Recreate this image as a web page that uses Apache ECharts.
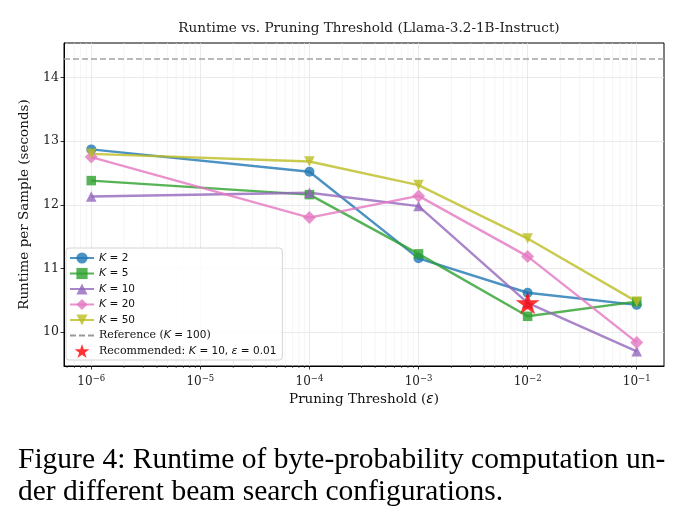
<!DOCTYPE html>
<html>
<head>
<meta charset="utf-8">
<script src="https://cdn.jsdelivr.net/npm/echarts@6/dist/echarts.min.js"></script>
<style>
  html, body { margin: 0; padding: 0; background: #fff; }
  #chart { width: 689px; height: 525px; }
</style>
</head>
<body>
<div id="chart"></div>
<script>
// values
const thresholds = [1e-6, 1e-4, 1e-3, 1e-2, 1e-1];
const k2 = [12.87, 12.52, 11.16, 10.62, 10.43];
const k5 = [12.38, 12.16, 11.23, 10.25, 10.48];
const k10 = [12.13, 12.19, 11.98, 10.46, 9.70];
const k20 = [12.75, 11.80, 12.14, 11.19, 9.84];
const k50 = [12.80, 12.68, 12.31, 11.47, 10.48];
const referenceRuntime = 14.30;
const recommended = [1e-2, 10.46];

const xTicks = [1e-6, 1e-5, 1e-4, 1e-3, 1e-2, 1e-1];
const yTicks = [10, 11, 12, 13, 14];
const X_MIN = 10 ** -6.25, X_MAX = 10 ** -0.75;
const Y_MIN = 9.47, Y_MAX = 14.54;

const STAR = 'path://M0,-1L0.2245,-0.309L0.951,-0.309L0.363,0.118L0.588,0.809L0,0.382L-0.588,0.809L-0.363,0.118L-0.951,-0.309L-0.2245,-0.309Z';

// log minor grid positions (2..9 x 10^n)
const minorTicks = [];
for (let e = -7; e <= -1; e++) {
  for (let m = 2; m <= 9; m++) {
    const v = m * 10 ** e;
    if (v > X_MIN && v < X_MAX) minorTicks.push([v, Y_MIN]);
  }
}

const kSeries = [
  { name: 'K = 2', data: k2, color: '#1f77b4', symbol: 'circle', size: 10 },
  { name: 'K = 5', data: k5, color: '#2ca02c', symbol: 'rect', size: 9.5 },
  { name: 'K = 10', data: k10, color: '#9467bd', symbol: 'triangle', size: 10.5 },
  { name: 'K = 20', data: k20, color: '#e377c2', symbol: 'diamond', size: 13 },
  { name: 'K = 50', data: k50, color: '#bcbd22', symbol: 'triangle', size: 10.5, rotate: 180 },
];
const REF_NAME = 'Reference (K = 100)';
const REC_NAME = 'Recommended: K = 10, ε = 0.01';

const legendText = {
  'K = 2': '{mi|K}{m| = 2}',
  'K = 5': '{mi|K}{m| = 5}',
  'K = 10': '{mi|K}{m| = 10}',
  'K = 20': '{mi|K}{m| = 20}',
  'K = 50': '{mi|K}{m| = 50}',
  [REF_NAME]: 'Reference ({mi|K}{m| = 100})',
  [REC_NAME]: 'Recommended: {mi|K}{m| = 10, }{mi|ε}{m| = 0.01}',
};

const serif = 'DejaVu Serif';
const sans = 'DejaVu Sans';

const chart = echarts.init(document.getElementById('chart'), null, { renderer: 'canvas' });

chart.setOption({
  backgroundColor: '#fff',
  animation: false,
  title: {
    text: 'Runtime vs. Pruning Threshold (Llama-3.2-1B-Instruct)',
    left: 364, top: 16, textAlign: 'center',
    textStyle: { fontFamily: serif, fontSize: 13.6, fontWeight: 'normal', color: '#222' },
  },
  grid: {
    left: 64, right: 25, top: 43, bottom: 159,
    show: true, borderColor: '#000', borderWidth: 1, backgroundColor: 'transparent',
  },
  xAxis: {
    type: 'log', logBase: 10, min: X_MIN, max: X_MAX,
    name: 'Pruning Threshold ({it|ε})', nameLocation: 'middle', nameGap: 22,
    nameTextStyle: { fontFamily: serif, fontSize: 13.5, color: '#111', rich: { it: { fontFamily: sans, fontStyle: 'italic', fontSize: 13.5, color: '#111' } } },
    axisLine: { lineStyle: { color: '#000', width: 1 } },
    axisTick: { length: 3.5, customValues: xTicks, lineStyle: { color: '#000', width: 0.8 } },
    axisLabel: {
      customValues: xTicks, margin: 8, color: '#222', fontFamily: serif, fontSize: 12,
      formatter: v => '10{sup|−' + Math.round(-Math.log10(v)) + '}',
      rich: { sup: { fontFamily: serif, fontSize: 8.5, color: '#222', verticalAlign: 'top', padding: [0, 0, 7, 0] } },
    },
    splitLine: { show: true, lineStyle: { color: '#e4e4e4', width: 0.8 } },
  },
  yAxis: {
    type: 'value', min: Y_MIN, max: Y_MAX,
    name: 'Runtime per Sample (seconds)', nameLocation: 'middle', nameGap: 33,
    nameTextStyle: { fontFamily: serif, fontSize: 13.5, color: '#111' },
    axisLine: { show: true, lineStyle: { color: '#000', width: 1 } },
    axisTick: { show: true, length: 3.5, customValues: yTicks, lineStyle: { color: '#000', width: 0.8 } },
    axisLabel: { customValues: yTicks, margin: 5, color: '#222', fontFamily: serif, fontSize: 12.5 },
    splitLine: { show: true, lineStyle: { color: '#e4e4e4', width: 0.8 } },
  },
  legend: {
    data: [
      ...kSeries.map(s => s.name),
      { name: REF_NAME, itemStyle: { opacity: 0 } },
      REC_NAME,
    ],
    orient: 'vertical', left: 66, top: 248,
    backgroundColor: 'rgba(255,255,255,0.85)', borderColor: '#d4d4d4', borderWidth: 1, borderRadius: 3,
    padding: [3, 6, 2, 3], itemGap: 1.5, itemWidth: 24, itemHeight: 14,
    formatter: name => legendText[name] || name,
    textStyle: {
      fontFamily: serif, fontSize: 11, color: '#111', lineHeight: 14,
      rich: {
        mi: { fontFamily: sans, fontStyle: 'italic', fontSize: 11, color: '#111' },
        m: { fontFamily: sans, fontSize: 10.5, color: '#111' },
      },
    },
  },
  series: [
    {
      type: 'custom', silent: true, clip: false, z: 1,
      data: minorTicks,
      renderItem: (params, api) => {
        const cs = params.coordSys;
        const x = api.coord([api.value(0), api.value(1)])[0];
        const bottom = cs.y + cs.height;
        return {
          type: 'group',
          children: [
            { type: 'line', shape: { x1: x, y1: cs.y, x2: x, y2: bottom }, style: { stroke: '#efefef', lineWidth: 0.6 } },
            { type: 'line', shape: { x1: x, y1: bottom, x2: x, y2: bottom + 2 }, style: { stroke: '#000', lineWidth: 0.6 } },
          ],
        };
      },
    },
    ...kSeries.map(s => ({
      name: s.name, type: 'line', z: 3,
      data: thresholds.map((t, i) => [t, s.data[i]]),
      symbol: s.symbol, symbolSize: s.size, symbolRotate: s.rotate || 0,
      lineStyle: { color: s.color, width: 2.4, opacity: 0.8 },
      itemStyle: { color: s.color, opacity: 0.8 },
      emphasis: { disabled: true },
    })),
    {
      name: REF_NAME, type: 'line', data: [], symbol: 'none', z: 2,
      lineStyle: { color: '#999', width: 1.6, type: [6, 3] },
      itemStyle: { color: '#999' },
      markLine: {
        silent: true, symbol: 'none', label: { show: false },
        lineStyle: { color: '#999', width: 1.6, type: [6, 3], opacity: 0.9 },
        data: [{ yAxis: referenceRuntime }],
      },
    },
    {
      name: REC_NAME, type: 'scatter', z: 5,
      data: [recommended],
      symbol: STAR, symbolSize: 24, symbolKeepAspect: true,
      itemStyle: { color: '#ff0000' },
    },
  ],
  graphic: [{
    type: 'text', left: 18, top: 444,
    style: {
      text: 'Figure 4: Runtime of byte-probability computation un-\nder different beam search configurations.',
      font: '29.5px "Liberation Serif"', fill: '#000', lineHeight: 32,
    },
  }],
});
</script>
</body>
</html>
